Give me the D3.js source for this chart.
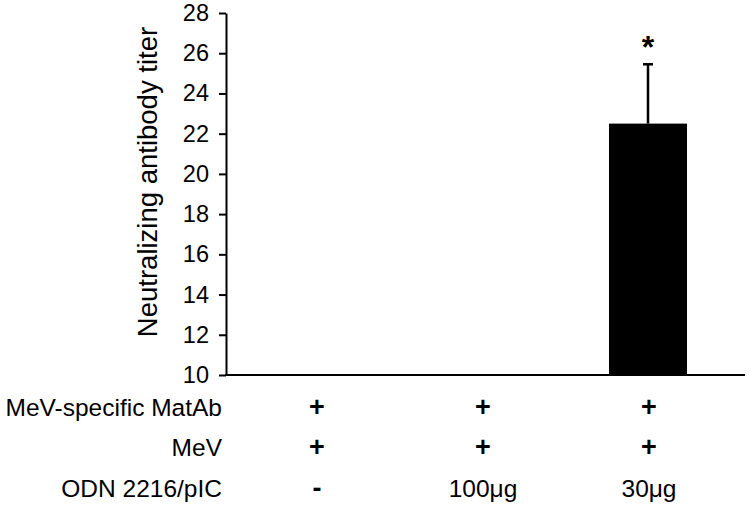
<!DOCTYPE html>
<html><head><meta charset="utf-8">
<script src="https://cdn.jsdelivr.net/npm/d3@7"></script>
<style>body{margin:0;background:#fff}svg{display:block}text{font-family:"Liberation Sans",Arial,sans-serif;fill:#000}</style>
</head><body><svg id="c" width="750" height="507"></svg>
<script>
const categories = ["g1", "g2", "g3"];
const values = [null, null, 22.5];
const errors = [null, null, 2.95];
const significance = ["", "", "*"];
const yTicks = [10, 12, 14, 16, 18, 20, 22, 24, 26, 28];
const rowLabels = ["MeV-specific MatAb", "MeV", "ODN 2216/pIC"];
const matAbRow = ["+", "+", "+"];
const mevRow = ["+", "+", "+"];
const odnRow = ["-", "100\u03bcg", "30\u03bcg"];
const yLabel = "Neutralizing antibody titer";

const svg = d3.select("#c");
const y = d3.scaleLinear().domain([10, 28]).range([375, 13]);
const x = d3.scaleBand().domain(categories).range([234, 732]);
const barW = 78;

// y axis
const yAxis = svg.append("g").attr("transform", "translate(226,0)")
  .call(d3.axisLeft(y).tickValues(yTicks).tickSize(7).tickPadding(10).tickSizeOuter(0));
yAxis.select(".domain").attr("stroke", "#000").attr("stroke-width", 2);
yAxis.selectAll(".tick line").attr("stroke", "#000").attr("stroke-width", 2);
yAxis.selectAll(".tick text").attr("font-size", 23.5).attr("font-family", "Liberation Sans, Arial, sans-serif").attr("fill", "#000");

// x baseline
svg.append("line").attr("x1", 225).attr("x2", 745).attr("y1", y(10)).attr("y2", y(10))
  .attr("stroke", "#000").attr("stroke-width", 2);

const data = categories.map((c, i) => ({c, v: values[i], e: errors[i], s: significance[i]}));
const withVal = data.filter(d => d.v != null);

svg.selectAll("rect.bar").data(withVal).join("rect").attr("class", "bar")
  .attr("x", d => x(d.c) + x.bandwidth() / 2 - barW / 2 - 1)
  .attr("width", barW)
  .attr("y", d => y(d.v)).attr("height", d => y(10) - y(d.v)).attr("fill", "#000");

// error bars
const cx = d => x(d.c) + x.bandwidth() / 2 - 1;
svg.selectAll("line.err").data(withVal).join("line").attr("class", "err")
  .attr("x1", cx).attr("x2", cx).attr("y1", d => y(d.v)).attr("y2", d => y(d.v + d.e))
  .attr("stroke", "#000").attr("stroke-width", 2.5);
svg.selectAll("line.cap").data(withVal).join("line").attr("class", "cap")
  .attr("x1", d => cx(d) - 5).attr("x2", d => cx(d) + 5).attr("y1", d => y(d.v + d.e)).attr("y2", d => y(d.v + d.e))
  .attr("stroke", "#000").attr("stroke-width", 2.5);
svg.selectAll("text.sig").data(withVal).join("text").attr("class", "sig")
  .attr("x", cx).attr("y", d => y(d.v + d.e) - 6).attr("text-anchor", "middle")
  .attr("font-size", 32).attr("font-weight", "bold").text(d => d.s);

// y label
svg.append("text").attr("transform", "translate(157,182) rotate(-90)")
  .attr("text-anchor", "middle").attr("font-size", 27.5).text(yLabel);

// rows
const rows = [matAbRow, mevRow, odnRow];
const rowY = [416, 456, 497];
rowLabels.forEach((lab, i) => {
  svg.append("text").attr("x", 222).attr("y", rowY[i]).attr("text-anchor", "end")
    .attr("font-size", 24.5).text(lab);
  svg.selectAll("text.r" + i).data(categories).join("text").attr("class", "r" + i)
    .attr("x", (c) => x(c) + x.bandwidth() / 2).attr("y", rowY[i]).attr("text-anchor", "middle")
    .attr("font-size", (c, j) => /^[+-]$/.test(rows[i][j]) ? 27 : 24.5)
    .attr("font-weight", (c, j) => /^[+-]$/.test(rows[i][j]) ? "bold" : "normal")
    .text((c, j) => rows[i][j]);
});
</script></body></html>
